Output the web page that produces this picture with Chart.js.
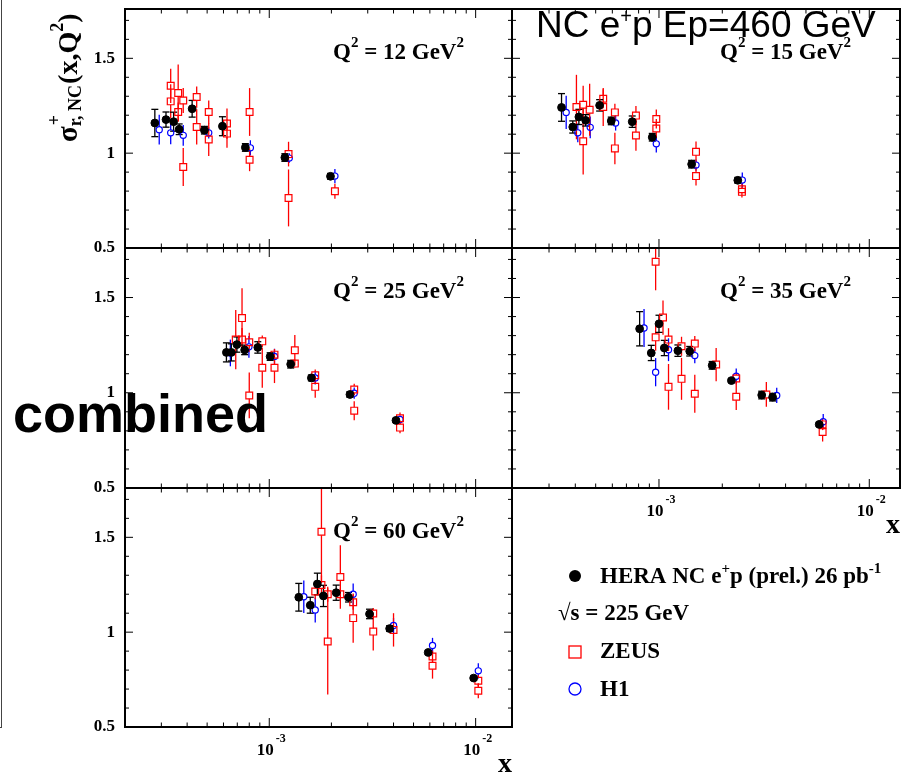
<!DOCTYPE html>
<html lang="en">
<head>
<meta charset="UTF-8">
<title>HERA NC e+p reduced cross section, Ep=460 GeV</title>
<style>
  body { margin: 0; background: #fff; }
  #wrap { position: relative; width: 909px; height: 776px; overflow: hidden; background: #fff; }
  #wrap canvas { position: absolute; left: 0; top: 0; }
  .edge { position: absolute; left: 0; top: 0; width: 1px; height: 727px; border-right: 1px solid #444; border-bottom: 1px solid #444; }
  .title { position: absolute; left: 536px; top: 6px; font-family: "Liberation Sans", Arial, sans-serif; font-size: 37px; line-height: 1; white-space: nowrap; color: #000; }
  .title .sup { position: relative; top: -14px; font-size: 20px; }
  .combined { position: absolute; left: 13px; top: 386px; font-family: "Liberation Sans", Arial, sans-serif; font-weight: bold; font-size: 54px; line-height: 1; color: #000; }
</style>
</head>
<body>
<div id="wrap">
  <div class="edge"></div>
  <canvas id="q12" width="909" height="776"></canvas>
  <canvas id="q15" width="909" height="776"></canvas>
  <canvas id="q25" width="909" height="776"></canvas>
  <canvas id="q35" width="909" height="776"></canvas>
  <canvas id="q60" width="909" height="776"></canvas>
  <div class="title">NC e<span class="sup">+</span>p Ep=460 GeV</div>
  <div class="combined">combined</div>
</div>

<script src="https://cdn.jsdelivr.net/npm/chart.js"></script>
<script>
  // each row: [x, sigma_r, error]
  const HERA_12 = [
    [2.79e-4, 1.159, 0.072], [3.16e-4, 1.177, 0.040], [3.44e-4, 1.166, 0.050],
    [3.66e-4, 1.126, 0.028], [4.23e-4, 1.234, 0.044], [4.85e-4, 1.121, 0.020],
    [5.93e-4, 1.142, 0.050], [7.66e-4, 1.030, 0.020], [1.19e-3, 0.977, 0.020],
    [1.98e-3, 0.878, 0.015]
  ];
  const H1_12 = [
    [2.93e-4, 1.124, 0.079], [3.33e-4, 1.107, 0.060], [3.83e-4, 1.094, 0.055],
    [5.09e-4, 1.107, 0.030], [8.10e-4, 1.028, 0.040], [1.25e-3, 0.974, 0.025],
    [2.08e-3, 0.879, 0.037]
  ];
  const ZEUS_12 = [
    [3.33e-4, 1.355, 0.090], [3.33e-4, 1.273, 0.090], [3.62e-4, 1.317, 0.150],
    [3.62e-4, 1.217, 0.050], [3.83e-4, 1.278, 0.066], [3.83e-4, 0.927, 0.100],
    [4.45e-4, 1.296, 0.056], [4.45e-4, 1.138, 0.093], [5.09e-4, 1.217, 0.060],
    [5.09e-4, 1.072, 0.087], [6.24e-4, 1.156, 0.080], [6.24e-4, 1.103, 0.075],
    [8.03e-4, 1.217, 0.126], [8.03e-4, 0.965, 0.060], [1.24e-3, 0.995, 0.065],
    [1.24e-3, 0.764, 0.150], [2.08e-3, 0.799, 0.040]
  ];

  const HERA_15 = [
    [3.44e-4, 1.241, 0.073], [3.89e-4, 1.138, 0.032], [4.16e-4, 1.191, 0.040],
    [4.48e-4, 1.173, 0.030], [5.22e-4, 1.252, 0.030], [5.93e-4, 1.170, 0.020],
    [7.46e-4, 1.166, 0.030], [9.29e-4, 1.084, 0.020], [1.43e-3, 0.942, 0.020],
    [2.37e-3, 0.857, 0.015]
  ];
  const H1_15 = [
    [3.62e-4, 1.215, 0.087], [4.11e-4, 1.107, 0.050], [4.71e-4, 1.136, 0.057],
    [6.22e-4, 1.159, 0.040], [9.71e-4, 1.049, 0.045], [1.50e-3, 0.937, 0.030],
    [2.49e-3, 0.858, 0.040]
  ];
  const ZEUS_15 = [
    [4.05e-4, 1.243, 0.170], [4.36e-4, 1.255, 0.100], [4.36e-4, 1.063, 0.175],
    [4.68e-4, 1.229, 0.137], [5.43e-4, 1.287, 0.050], [5.43e-4, 1.243, 0.100],
    [6.17e-4, 1.215, 0.045], [6.17e-4, 1.025, 0.083], [7.77e-4, 1.198, 0.050],
    [7.77e-4, 1.093, 0.080], [9.71e-4, 1.180, 0.050], [9.71e-4, 1.130, 0.050],
    [1.50e-3, 1.007, 0.055], [1.50e-3, 0.879, 0.050], [2.48e-3, 0.810, 0.030],
    [2.48e-3, 0.796, 0.030]
  ];

  const HERA_25 = [
    [6.20e-4, 1.212, 0.050], [6.55e-4, 1.212, 0.045], [6.97e-4, 1.253, 0.040],
    [7.60e-4, 1.225, 0.025], [8.80e-4, 1.238, 0.030], [1.01e-3, 1.190, 0.020],
    [1.27e-3, 1.150, 0.020], [1.60e-3, 1.078, 0.015], [2.46e-3, 0.991, 0.015],
    [4.11e-3, 0.855, 0.010]
  ];
  const H1_25 = [
    [6.48e-4, 1.209, 0.070], [7.97e-4, 1.241, 0.057], [1.06e-3, 1.191, 0.040],
    [1.67e-3, 1.078, 0.035], [2.58e-3, 0.998, 0.030], [4.30e-3, 0.860, 0.020]
  ];
  const ZEUS_25 = [
    [6.88e-4, 1.279, 0.155], [7.38e-4, 1.392, 0.157], [7.38e-4, 1.280, 0.060],
    [8.00e-4, 1.265, 0.050], [8.00e-4, 0.986, 0.120], [9.25e-4, 1.270, 0.030],
    [9.25e-4, 1.131, 0.105], [1.06e-3, 1.200, 0.030], [1.06e-3, 1.131, 0.080],
    [1.33e-3, 1.223, 0.080], [1.33e-3, 1.153, 0.020], [1.67e-3, 1.092, 0.030],
    [1.67e-3, 1.031, 0.057], [2.58e-3, 1.017, 0.030], [2.58e-3, 0.906, 0.050],
    [4.30e-3, 0.866, 0.030], [4.30e-3, 0.817, 0.030]
  ];

  const HERA_35 = [
    [8.09e-4, 1.336, 0.090], [9.19e-4, 1.209, 0.040], [1.00e-3, 1.362, 0.045],
    [1.06e-3, 1.235, 0.040], [1.23e-3, 1.221, 0.030], [1.40e-3, 1.218, 0.025],
    [1.79e-3, 1.144, 0.020], [2.21e-3, 1.064, 0.010], [3.08e-3, 0.988, 0.020],
    [3.47e-3, 0.977, 0.020], [5.78e-3, 0.834, 0.010]
  ];
  const H1_35 = [
    [8.49e-4, 1.340, 0.100], [9.64e-4, 1.108, 0.074], [1.11e-3, 1.226, 0.060],
    [1.48e-3, 1.195, 0.040], [2.33e-3, 1.087, 0.040], [3.63e-3, 0.986, 0.040],
    [6.04e-3, 0.848, 0.040]
  ];
  const ZEUS_35 = [
    [9.64e-4, 1.688, 0.150], [9.64e-4, 1.291, 0.070], [1.045e-3, 1.395, 0.090],
    [1.11e-3, 1.279, 0.060], [1.11e-3, 1.031, 0.120], [1.28e-3, 1.244, 0.050],
    [1.28e-3, 1.073, 0.110], [1.48e-3, 1.258, 0.040], [1.48e-3, 0.995, 0.100],
    [1.87e-3, 1.148, 0.087], [2.33e-3, 1.075, 0.030], [2.33e-3, 0.979, 0.070],
    [3.24e-3, 0.991, 0.065], [6.00e-3, 0.834, 0.030], [6.00e-3, 0.794, 0.050]
  ];

  const HERA_60 = [
    [1.39e-3, 1.184, 0.073], [1.58e-3, 1.142, 0.042], [1.71e-3, 1.254, 0.057],
    [1.83e-3, 1.191, 0.056], [2.11e-3, 1.208, 0.040], [2.42e-3, 1.184, 0.025],
    [3.06e-3, 1.096, 0.025], [3.83e-3, 1.019, 0.015], [5.89e-3, 0.893, 0.010],
    [9.78e-3, 0.758, 0.010]
  ];
  const H1_60 = [
    [1.47e-3, 1.187, 0.086], [1.67e-3, 1.117, 0.066], [2.55e-3, 1.200, 0.057],
    [4.00e-3, 1.035, 0.040], [6.18e-3, 0.930, 0.040], [1.03e-2, 0.796, 0.040]
  ];
  const ZEUS_60 = [
    [1.67e-3, 1.214, 0.040], [1.79e-3, 1.529, 0.270], [1.79e-3, 1.249, 0.050],
    [1.92e-3, 1.200, 0.040], [1.92e-3, 0.951, 0.280], [2.21e-3, 1.291, 0.167],
    [2.21e-3, 1.200, 0.030], [2.55e-3, 1.158, 0.040], [2.55e-3, 1.074, 0.130],
    [3.19e-3, 1.098, 0.030], [3.19e-3, 1.003, 0.100], [4.00e-3, 1.012, 0.088],
    [6.18e-3, 0.872, 0.030], [6.18e-3, 0.823, 0.068], [1.03e-2, 0.744, 0.030],
    [1.03e-2, 0.691, 0.040]
  ];

  const Y_MIN = 0.5, Y_MAX = 1.76;
  const Y_TICK_LABELS = ['0.5', '1', '1.5'];
  const X_DECADES = [1e-3, 1e-2];
  const X_DECADE_LABELS = ['-3', '-2'];

  const SERIF = '"Liberation Serif", "Times New Roman", serif';
  const bold = size => `bold ${size}px ${SERIF}`;

  // draw a row of [text, size, dy, gapBefore] pieces on one baseline
  function drawParts(ctx, x, y, parts, align) {
    let w = 0;
    parts.forEach(p => { ctx.font = bold(p[1]); w += ctx.measureText(p[0]).width + (p[3] || 0); });
    if (align === 'right') x -= w;
    else if (align === 'center') x -= w / 2;
    ctx.textAlign = 'left';
    ctx.textBaseline = 'alphabetic';
    parts.forEach(p => {
      ctx.font = bold(p[1]);
      x += p[3] || 0;
      ctx.fillText(p[0], x, y + (p[2] || 0));
      x += ctx.measureText(p[0]).width;
    });
  }

  function line(ctx, x1, y1, x2, y2) {
    ctx.beginPath();
    ctx.moveTo(x1, y1);
    ctx.lineTo(x2, y2);
    ctx.stroke();
  }

  // vertical error bars, with a gap where the marker sits
  const errorBars = {
    id: 'errorBars',
    beforeDatasetsDraw(chart) {
      const ctx = chart.ctx;
      const ys = chart.scales.y;
      const area = chart.chartArea;
      ctx.save();
      ctx.beginPath();
      ctx.rect(area.left, area.top, area.right - area.left, area.bottom - area.top);
      ctx.clip();
      for (let i = chart.data.datasets.length - 1; i >= 0; i--) {
        const ds = chart.data.datasets[i];
        const meta = chart.getDatasetMeta(i);
        ctx.strokeStyle = ds.borderColor;
        ctx.lineWidth = 1.3;
        ds.data.forEach((p, j) => {
          const el = meta.data[j];
          const top = ys.getPixelForValue(p.y + p.e);
          const bot = ys.getPixelForValue(p.y - p.e);
          if (top < el.y - ds.gap) line(ctx, el.x, top, el.x, el.y - ds.gap);
          if (bot > el.y + ds.gap) line(ctx, el.x, el.y + ds.gap, el.x, bot);
          if (ds.caps) {
            line(ctx, el.x - 3.5, top, el.x + 3.5, top);
            line(ctx, el.x - 3.5, bot, el.x + 3.5, bot);
          }
        });
      }
      ctx.restore();
    }
  };

  // frame, inward ticks, tick labels, Q2 label, axis titles, legend
  const panelFrame = {
    id: 'panelFrame',
    afterDatasetsDraw(chart, args, opts) {
      const ctx = chart.ctx;
      const { left, right, top, bottom } = chart.chartArea;
      const xs = chart.scales.x, ys = chart.scales.y;
      ctx.save();
      ctx.strokeStyle = '#000';
      ctx.fillStyle = '#000';

      ctx.lineWidth = 1;
      for (let k = 5; k <= 17; k++) {
        const py = ys.getPixelForValue(k / 10);
        const len = k % 5 === 0 ? 8 : 4;
        line(ctx, left, py, left + len, py);
        line(ctx, right, py, right - len, py);
      }
      for (let d = -4; d <= -1; d++) {
        for (let m = 1; m <= 9; m++) {
          const v = m * Math.pow(10, d);
          if (v <= xs.min || v >= xs.max) continue;
          const px = xs.getPixelForValue(v);
          const len = m === 1 ? 9 : 4.5;
          line(ctx, px, bottom, px, bottom - len);
          line(ctx, px, top, px, top + len);
        }
      }

      ctx.lineWidth = 2;
      ctx.strokeRect(left, top, right - left, bottom - top);

      if (opts.yLabels) {
        Y_TICK_LABELS.forEach(t => {
          ctx.font = bold(17);
          ctx.textAlign = 'right';
          ctx.textBaseline = 'middle';
          ctx.fillText(t, left - 10, ys.getPixelForValue(parseFloat(t)));
        });
      }
      if (opts.xLabels) {
        X_DECADES.forEach((v, i) => {
          drawParts(ctx, xs.getPixelForValue(v) + 2, bottom + 28,
            [['10', 17, 0], [X_DECADE_LABELS[i], 12, -13, 2]], 'center');
        });
        drawParts(ctx, right, bottom + 45, [['x', 28, 0]], 'right');
      }

      drawParts(ctx, left + 208, top + 50,
        [['Q', 23, 0], ['2', 15, -12], [' = ' + opts.q2 + ' GeV', 23, 0], ['2', 15, -12]]);

      if (opts.yTitle) {
        ctx.translate(77, 142);
        ctx.rotate(-Math.PI / 2);
        ctx.textAlign = 'left';
        ctx.textBaseline = 'alphabetic';
        ctx.font = bold(29);
        ctx.fillText('\u03c3', 0, 0);
        let x = ctx.measureText('\u03c3').width;
        ctx.font = bold(18);
        ctx.fillText('+', x + 1, -17);
        ctx.fillText('r, NC', x, 4);
        x += Math.max(ctx.measureText('+').width, ctx.measureText('r, NC').width) + 1;
        ctx.font = bold(28);
        ctx.fillText('(x,Q', x, 0);
        x += ctx.measureText('(x,Q').width;
        ctx.font = bold(18);
        ctx.fillText('2', x, -14);
        x += ctx.measureText('2').width;
        ctx.font = bold(28);
        ctx.fillText(')', x, 0);
        ctx.setTransform(1, 0, 0, 1, 0, 0);
      }

      if (opts.legend) {
        const [hera, zeus, h1] = chart.data.datasets;
        ctx.fillStyle = hera.backgroundColor;
        ctx.beginPath();
        ctx.arc(575, 576, 6, 0, Math.PI * 2);
        ctx.fill();
        ctx.lineWidth = 1.3;
        ctx.strokeStyle = zeus.borderColor;
        ctx.strokeRect(569, 646, 12, 12);
        ctx.strokeStyle = h1.borderColor;
        ctx.beginPath();
        ctx.arc(575, 689, 6, 0, Math.PI * 2);
        ctx.stroke();
        ctx.fillStyle = '#000';
        drawParts(ctx, 600, 583, [['HERA NC e', 23, 0], ['+', 15, -10], ['p (prel.) 26 pb', 23, 0], ['-1', 15, -10]]);
        drawParts(ctx, 558, 620, [['\u221as = 225 GeV', 23, 0]]);
        drawParts(ctx, 600, 658, [[zeus.label, 23, 0]]);
        drawParts(ctx, 600, 696, [[h1.label, 23, 0]]);
      }
      ctx.restore();
    }
  };

  const toPoints = rows => rows.map(r => ({ x: r[0], y: r[1], e: r[2] }));

  function makePanel(id, rect, xMax, hera, zeus, h1, opts) {
    return new Chart(document.getElementById(id), {
      type: 'scatter',
      data: {
        datasets: [
          {
            label: 'HERA NC e+p (prel.) 26 pb-1', data: toPoints(hera),
            pointStyle: 'circle', pointRadius: 3.9, borderWidth: 1,
            backgroundColor: '#000', borderColor: '#000', gap: 0, caps: true
          },
          {
            label: 'ZEUS', data: toPoints(zeus),
            pointStyle: 'rect', pointRadius: 4.8, borderWidth: 1.2,
            backgroundColor: 'rgba(0,0,0,0)', borderColor: '#ff0000', gap: 3.4
          },
          {
            label: 'H1', data: toPoints(h1),
            pointStyle: 'circle', pointRadius: 3.1, borderWidth: 1.2,
            backgroundColor: 'rgba(0,0,0,0)', borderColor: '#0000ff', gap: 3.1
          }
        ]
      },
      options: {
        responsive: false,
        animation: false,
        devicePixelRatio: 1,
        events: [],
        layout: { padding: { left: rect[0], top: rect[1], right: 909 - rect[2], bottom: 776 - rect[3] } },
        scales: {
          x: { type: 'logarithmic', min: 2e-4, max: xMax, display: false },
          y: { type: 'linear', min: Y_MIN, max: Y_MAX, display: false }
        },
        plugins: {
          legend: { display: false },
          tooltip: { enabled: false },
          panelFrame: opts
        }
      },
      plugins: [errorBars, panelFrame]
    });
  }

  makePanel('q12', [125, 9, 512, 248], 0.015, HERA_12, ZEUS_12, H1_12, { q2: 12, yLabels: true, yTitle: true });
  makePanel('q15', [512, 9, 900, 248], 0.014, HERA_15, ZEUS_15, H1_15, { q2: 15 });
  makePanel('q25', [125, 248, 512, 488], 0.015, HERA_25, ZEUS_25, H1_25, { q2: 25, yLabels: true });
  makePanel('q35', [512, 248, 900, 488], 0.014, HERA_35, ZEUS_35, H1_35, { q2: 35, xLabels: true });
  makePanel('q60', [125, 488, 512, 727], 0.015, HERA_60, ZEUS_60, H1_60, { q2: 60, yLabels: true, xLabels: true, legend: true });
</script>
</body>
</html>
